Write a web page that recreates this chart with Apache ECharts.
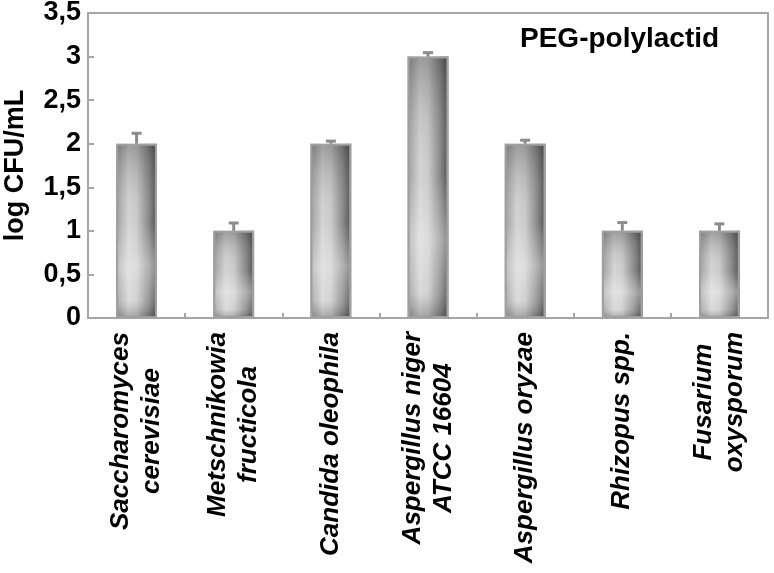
<!DOCTYPE html>
<html>
<head>
<meta charset="utf-8">
<script src="https://cdn.jsdelivr.net/npm/echarts@6/dist/echarts.min.js"></script>
<style>
  html, body { margin: 0; padding: 0; background: #fff; }
  #main { width: 774px; height: 573px; }
</style>
</head>
<body>
<div id="main"></div>
<script>
// Data
const categories = [
    'Saccharomyces\ncerevisiae',
    'Metschnikowia\nfructicola',
    'Candida oleophila',
    'Aspergillus niger\nATCC 16604',
    'Aspergillus oryzae',
    'Rhizopus spp.',
    'Fusarium\noxysporum'
];
const values = [2, 1, 2, 3, 2, 1, 1];
const errors = [0.12, 0.09, 0.03, 0.045, 0.04, 0.095, 0.08];
const yTicks = { min: 0, max: 3.5, interval: 0.5 };

let myChart = echarts.init(document.getElementById('main'));

const FONT = '"Liberation Sans", Arial, sans-serif';
const GRAY = '#a6a6a6';

// Error bars: stem from bar top plus a small cap
function renderError(params, api) {
    let idx = api.value(0);
    let top = api.coord([idx, api.value(1) + api.value(2)]);
    let base = api.coord([idx, api.value(1)]);
    let half = 5;
    let style = { stroke: '#8c8c8c', lineWidth: 3 };
    return {
        type: 'group',
        children: [
            { type: 'line', shape: { x1: base[0], y1: base[1], x2: top[0], y2: top[1] }, style: style },
            { type: 'line', shape: { x1: top[0] - half, y1: top[1], x2: top[0] + half, y2: top[1] }, style: style }
        ]
    };
}

let option = {
    animation: false,
    title: {
        text: 'PEG-polylactid',
        left: 515,
        top: 20,
        textStyle: { fontFamily: FONT, fontSize: 28, fontWeight: 'bold', color: '#000' }
    },
    grid: {
        left: 88,
        right: 6,
        top: 13,
        bottom: 255,
        outerBoundsMode: 'none',
        show: true,
        borderColor: GRAY,
        borderWidth: 2
    },
    xAxis: {
        type: 'category',
        data: categories,
        axisLine: { show: true, lineStyle: { color: GRAY, width: 2 } },
        axisTick: { show: true, inside: true, length: 5, lineStyle: { color: GRAY, width: 2 } },
        axisLabel: {
            rotate: 90,
            margin: 14,
            interval: 0,
            formatter: (v) => v.split('\n').map(s => '{c|' + s + '}').join('\n'),
            rich: {
                c: {
                    fontFamily: FONT,
                    fontSize: 26,
                    fontWeight: 'bold',
                    fontStyle: 'italic',
                    color: '#000',
                    lineHeight: 31,
                    align: 'center'
                }
            }
        }
    },
    yAxis: {
        type: 'value',
        min: yTicks.min,
        max: yTicks.max,
        interval: yTicks.interval,
        name: 'log CFU/mL',
        nameLocation: 'middle',
        nameGap: 59,
        nameTextStyle: { fontFamily: FONT, fontSize: 27, fontWeight: 'bold', color: '#000' },
        splitLine: { show: false },
        axisLine: { show: true, lineStyle: { color: GRAY, width: 2 } },
        axisTick: { show: true, inside: true, length: 6, lineStyle: { color: GRAY, width: 2 } },
        axisLabel: {
            margin: 7,
            fontFamily: FONT,
            fontSize: 27,
            fontWeight: 'bold',
            color: '#000',
            formatter: (v) => String(v).replace('.', ',')
        }
    },
    series: [
        {
            // base bar: shading across the bar
            type: 'bar',
            barWidth: '42%',
            data: values,
            itemStyle: {
                color: new echarts.graphic.LinearGradient(0, 0, 1, 0, [
                    { offset: 0, color: '#959595' },
                    { offset: 0.3, color: '#d0d0d0' },
                    { offset: 0.5, color: '#c6c6c6' },
                    { offset: 0.8, color: '#7e7e7e' },
                    { offset: 0.93, color: '#555' },
                    { offset: 1, color: '#666' }
                ])
            }
        },
        {
            // overlay: shading along the bar, plus the frame
            type: 'bar',
            barWidth: '42%',
            barGap: '-100%',
            data: values,
            itemStyle: {
                color: new echarts.graphic.LinearGradient(0, 0, 0, 1, [
                    { offset: 0, color: 'rgba(60,60,60,0.35)' },
                    { offset: 0.45, color: 'rgba(255,255,255,0.08)' },
                    { offset: 0.7, color: 'rgba(255,255,255,0.4)' },
                    { offset: 0.9, color: 'rgba(255,255,255,0.2)' },
                    { offset: 1, color: 'rgba(60,60,60,0.3)' }
                ]),
                borderColor: '#a0a0a0',
                borderWidth: 2
            }
        },
        {
            type: 'custom',
            renderItem: renderError,
            data: values.map((v, i) => [i, v, errors[i]]),
            z: 10
        }
    ]
};

option && myChart.setOption(option);
</script>
</body>
</html>
